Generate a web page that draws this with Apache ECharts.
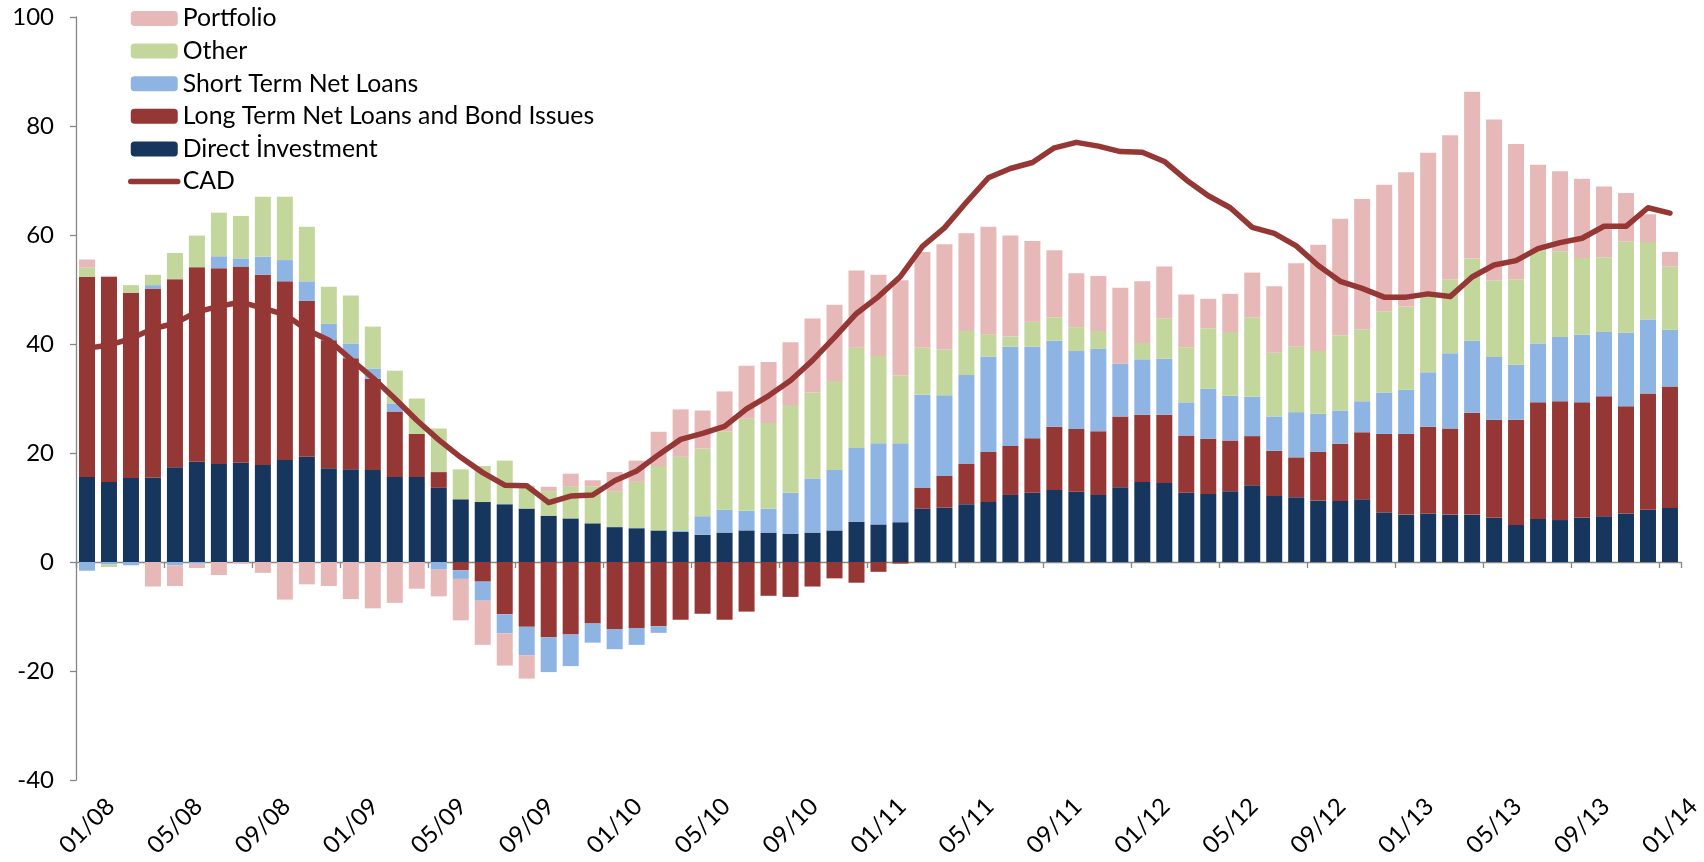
<!DOCTYPE html>
<html>
<head>
<meta charset="utf-8">
<script src="https://cdn.jsdelivr.net/npm/echarts@6/dist/echarts.min.js"></script>
<style>
  html, body { margin: 0; padding: 0; background: #fff; }
  #chart { width: 1704px; height: 862px; }
</style>
</head>
<body>
<div id="chart"></div>
<script>
var months = [
  '01/08', '02/08', '03/08', '04/08', '05/08', '06/08', '07/08', '08/08', '09/08', '10/08', '11/08', '12/08',
  '01/09', '02/09', '03/09', '04/09', '05/09', '06/09', '07/09', '08/09', '09/09', '10/09', '11/09', '12/09',
  '01/10', '02/10', '03/10', '04/10', '05/10', '06/10', '07/10', '08/10', '09/10', '10/10', '11/10', '12/10',
  '01/11', '02/11', '03/11', '04/11', '05/11', '06/11', '07/11', '08/11', '09/11', '10/11', '11/11', '12/11',
  '01/12', '02/12', '03/12', '04/12', '05/12', '06/12', '07/12', '08/12', '09/12', '10/12', '11/12', '12/12',
  '01/13', '02/13', '03/13', '04/13', '05/13', '06/13', '07/13', '08/13', '09/13', '10/13', '11/13', '12/13',
  '01/14'
];

var directInvestment = [
  15.6, 14.7, 15.4, 15.5, 17.4, 18.4, 18.0, 18.2, 17.8, 18.7, 19.3, 17.2,
  17.0, 16.9, 15.6, 15.6, 13.6, 11.5, 11.0, 10.6, 9.8, 8.5, 8.0, 7.1,
  6.4, 6.2, 5.8, 5.5, 5.0, 5.4, 5.8, 5.4, 5.2, 5.4, 5.8, 7.4,
  6.9, 7.3, 9.8, 10.0, 10.6, 11.0, 12.3, 12.7, 13.2, 12.9, 12.3, 13.7,
  14.7, 14.5, 12.7, 12.5, 13.0, 14.1, 12.1, 11.9, 11.3, 11.2, 11.5, 9.1,
  8.7, 8.9, 8.7, 8.7, 8.1, 6.8, 7.9, 7.7, 8.1, 8.4, 8.9, 9.6,
  9.9
];

var longTerm = [
  36.7, 37.6, 34.0, 34.6, 34.5, 35.7, 35.9, 36.0, 34.9, 32.8, 28.6, 23.5,
  20.4, 16.7, 12.0, 7.9, 2.9, -1.5, -3.6, -9.6, -11.9, -13.8, -13.3, -11.3,
  -12.3, -12.1, -11.8, -10.6, -9.5, -10.6, -9.1, -6.2, -6.4, -4.5, -3.0, -3.8,
  -1.8, -0.3, 3.8, 5.8, 7.4, 9.2, 9.0, 10.0, 11.6, 11.5, 11.7, 13.0,
  12.3, 12.5, 10.5, 10.1, 9.3, 9.0, 8.3, 7.3, 8.9, 10.5, 12.3, 14.4,
  14.8, 15.9, 15.8, 18.7, 18.0, 19.3, 21.4, 21.8, 21.2, 22.0, 19.7, 21.3,
  22.3
];

var shortTerm = [
  -1.6, -0.4, -0.6, 0.7, -0.6, -0.3, 2.2, 1.5, 3.3, 3.9, 3.6, 3.0,
  2.7, 1.9, 1.5, 0, -1.4, -1.6, -3.5, -3.5, -5.2, -6.4, -5.8, -3.5,
  -3.7, -3.1, -1.2, 0.3, 3.4, 4.2, 3.6, 4.4, 7.5, 9.9, 11.1, 13.5,
  14.9, 14.5, 17.1, 14.8, 16.3, 17.5, 18.2, 16.8, 15.8, 14.3, 15.1, 9.7,
  10.2, 10.3, 6.1, 9.2, 8.2, 7.2, 6.3, 8.3, 7.0, 6.1, 5.7, 7.6,
  8.1, 10.0, 13.8, 13.2, 11.5, 10.1, 10.8, 11.8, 12.4, 11.8, 13.5, 13.6,
  10.4
];

var other = [
  1.7, -0.5, 1.4, 1.9, 4.8, 5.8, 8.0, 7.8, 11.0, 11.6, 10.0, 6.8,
  8.8, 7.7, 6.0, 6.5, 8.0, 5.5, 6.6, 8.0, 4.2, 4.5, 5.8, 6.8,
  6.6, 8.5, 11.8, 13.5, 12.4, 14.4, 16.9, 15.7, 16.1, 15.8, 16.3, 18.4,
  16.0, 12.4, 8.6, 8.4, 8.1, 4.1, 1.9, 4.6, 4.3, 4.4, 3.3, 0,
  3.0, 7.4, 10.1, 11.1, 11.7, 14.6, 11.7, 12.0, 11.5, 13.8, 13.2, 14.9,
  15.3, 14.1, 13.6, 15.1, 14.1, 15.7, 17.0, 15.7, 14.1, 13.7, 16.7, 14.2,
  11.6
];

var portfolio = [
  1.5, 0.2, 0, -4.5, -3.8, -0.8, -2.4, -0.3, -2.0, -6.9, -4.1, -4.4,
  -6.8, -8.5, -7.5, -4.9, -4.9, -7.6, -8.1, -5.9, -4.3, 0.8, 2.4, 1.1,
  3.5, 3.9, 6.3, 8.7, 7.0, 7.3, 9.7, 11.2, 11.5, 13.6, 14.0, 14.2,
  14.9, 17.5, 17.6, 19.3, 17.9, 19.7, 18.5, 14.8, 12.3, 9.9, 10.1, 13.9,
  11.3, 9.5, 9.7, 5.4, 7.0, 8.2, 12.2, 15.3, 19.5, 21.4, 23.9, 23.2,
  24.6, 26.2, 26.4, 30.6, 29.5, 24.8, 15.8, 14.7, 14.5, 13.0, 8.9, 5.1,
  2.7
];

var cad = [
  39.2, 39.8, 41.0, 42.8, 43.8, 45.9, 46.9, 47.7, 46.6, 45.4, 42.6, 40.7,
  37.2, 33.8, 30.0, 26.0, 22.4, 19.2, 16.4, 14.1, 14.0, 10.9, 12.1, 12.3,
  14.9, 16.7, 19.7, 22.5, 23.6, 24.9, 28.1, 30.5, 33.3, 37.0, 41.2, 45.6,
  48.7, 52.4, 57.9, 61.3, 66.0, 70.5, 72.2, 73.3, 76.0, 77.0, 76.3, 75.3,
  75.2, 73.5, 70.1, 67.2, 65.0, 61.4, 60.3, 58.0, 54.4, 51.5, 50.2, 48.6,
  48.6, 49.2, 48.7, 52.3, 54.5, 55.3, 57.5, 58.6, 59.4, 61.6, 61.6, 65.0,
  64.0
];

var FONT = 'Lato, "Open Sans", sans-serif';
var AXIS_GRAY = '#868686';
var CAD_RED = '#953735';

var chart = echarts.init(document.getElementById('chart'));

function barSeries(name, data, color) {
  return {
    name: name,
    type: 'bar',
    stack: 'flows',
    data: data,
    barWidth: 16,
    itemStyle: { color: color },
    emphasis: { disabled: true }
  };
}

chart.setOption({
  animation: false,
  textStyle: { fontFamily: FONT },
  grid: { left: 76, right: 8, top: 17, bottom: 82 },
  legend: {
    orient: 'vertical',
    left: 128,
    top: 6,
    padding: 0,
    itemWidth: 47,
    itemHeight: 15,
    itemGap: 7.6,
    textStyle: { fontFamily: FONT, fontSize: 24.8, lineHeight: 24, color: '#000' },
    data: [
      'Portfolio',
      'Other',
      'Short Term Net Loans',
      'Long Term Net Loans and Bond Issues',
      'Direct İnvestment',
      // line only in the legend, no marker dot
      { name: 'CAD', itemStyle: { opacity: 0 }, lineStyle: { width: 5.5, cap: 'round', color: CAD_RED } }
    ]
  },
  xAxis: [{
    type: 'category',
    data: months,
    axisLine: { onZero: true, lineStyle: { color: AXIS_GRAY, width: 1.3 } },
    axisTick: { show: true, interval: 3, length: 6, lineStyle: { color: AXIS_GRAY, width: 1.3 } },
    axisLabel: { show: false },
    splitLine: { show: false }
  }, {
    // labels sit at the bottom of the plot, not on the zero line
    type: 'category',
    data: months,
    position: 'bottom',
    axisLine: { show: false, onZero: false },
    axisTick: { show: false },
    axisLabel: {
      interval: 3,
      rotate: 45,
      align: 'center',
      verticalAlign: 'middle',
      margin: 46,
      fontFamily: FONT,
      fontSize: 24,
      color: '#000'
    },
    splitLine: { show: false }
  }],
  yAxis: {
    type: 'value',
    min: -40,
    max: 100,
    interval: 20,
    axisLine: { show: true, lineStyle: { color: AXIS_GRAY, width: 1.3 } },
    axisTick: { show: true, length: 6, lineStyle: { color: AXIS_GRAY, width: 1.3 } },
    axisLabel: { margin: 22, fontFamily: FONT, fontSize: 24, color: '#000' },
    splitLine: { show: false }
  },
  series: [
    barSeries('Direct İnvestment', directInvestment, '#17365D'),
    barSeries('Long Term Net Loans and Bond Issues', longTerm, '#953735'),
    barSeries('Short Term Net Loans', shortTerm, '#8EB4E3'),
    barSeries('Other', other, '#C3D69B'),
    barSeries('Portfolio', portfolio, '#E6B9B8'),
    {
      name: 'CAD',
      type: 'line',
      data: cad,
      symbol: 'none',
      z: 5,
      lineStyle: { color: CAD_RED, width: 5.5, cap: 'round', join: 'round' },
      itemStyle: { color: CAD_RED },
      emphasis: { disabled: true }
    }
  ]
});
</script>
</body>
</html>
